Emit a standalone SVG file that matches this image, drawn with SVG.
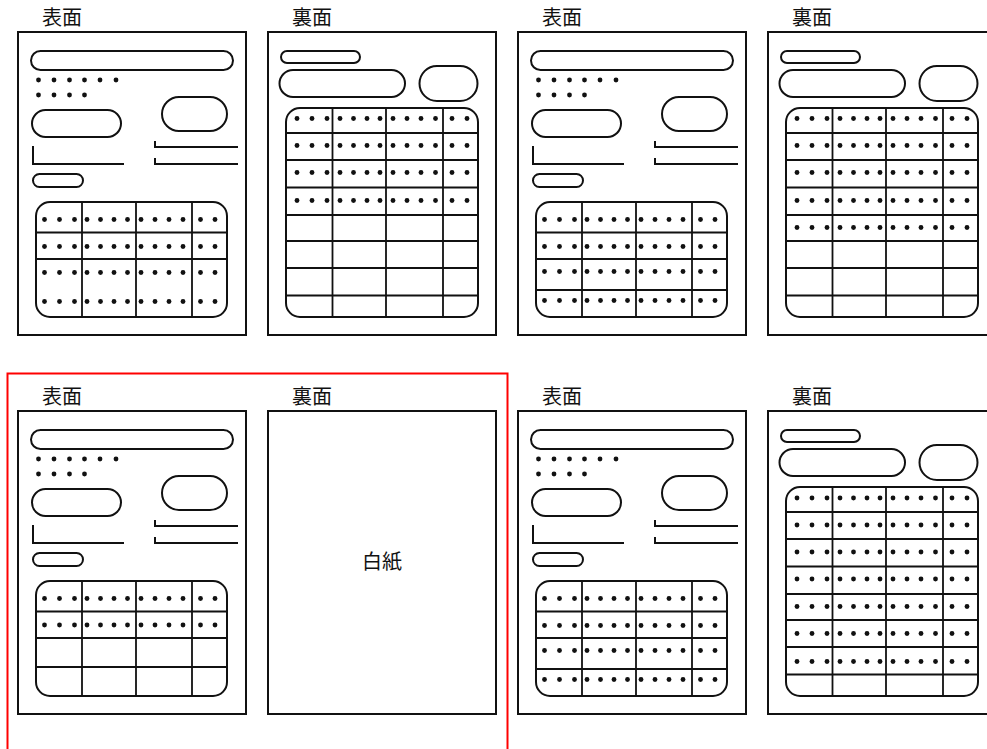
<svg xmlns="http://www.w3.org/2000/svg" xmlns:xlink="http://www.w3.org/1999/xlink" width="987" height="749" viewBox="0 0 987 749">
<style>
.ln{fill:none;stroke:#111;stroke-width:2}
.gr{fill:none;stroke:#111;stroke-width:1.8}
.fr{fill:#fff;stroke:#111;stroke-width:2}
.dt{fill:#111}
.dt circle{r:2.4px}
.lb{font-family:"Noto Sans CJK JP","Noto Sans CJK SC",sans-serif;font-size:20px;fill:#111}
.sel{fill:none;stroke:#f00;stroke-width:2}
</style>
<defs>
<g id="dotsF" class="dt">
<circle cx="44.5" cy="0" r="2.4"/><circle cx="59.5" cy="0" r="2.4"/><circle cx="74.5" cy="0" r="2.4"/>
<circle cx="87" cy="0" r="2.4"/><circle cx="100.5" cy="0" r="2.4"/><circle cx="114" cy="0" r="2.4"/><circle cx="127.5" cy="0" r="2.4"/>
<circle cx="141" cy="0" r="2.4"/><circle cx="155" cy="0" r="2.4"/><circle cx="169" cy="0" r="2.4"/><circle cx="183" cy="0" r="2.4"/>
<circle cx="200.5" cy="0" r="2.4"/><circle cx="215" cy="0" r="2.4"/>
</g>
<g id="dotsB" class="dt">
<circle cx="47" cy="0" r="2.4"/><circle cx="62" cy="0" r="2.4"/><circle cx="77" cy="0" r="2.4"/>
<circle cx="90" cy="0" r="2.4"/><circle cx="103.5" cy="0" r="2.4"/><circle cx="117" cy="0" r="2.4"/><circle cx="130" cy="0" r="2.4"/>
<circle cx="143" cy="0" r="2.4"/><circle cx="157" cy="0" r="2.4"/><circle cx="171" cy="0" r="2.4"/><circle cx="185.5" cy="0" r="2.4"/>
<circle cx="202" cy="0" r="2.4"/><circle cx="217" cy="0" r="2.4"/>
</g>
<g id="frontHead">
<rect class="fr" x="18" y="32" width="228" height="303"/>
<text class="lb" x="42" y="25">表面</text>
<rect class="ln" x="31" y="51" width="202" height="19" rx="9.5"/>
<g class="dt">
<circle cx="38.5" cy="80" r="2.4"/><circle cx="54" cy="80" r="2.4"/><circle cx="69.5" cy="80" r="2.4"/><circle cx="84.5" cy="80" r="2.4"/><circle cx="100" cy="80" r="2.4"/><circle cx="116" cy="80" r="2.4"/>
<circle cx="38.5" cy="95" r="2.4"/><circle cx="54" cy="95" r="2.4"/><circle cx="69.5" cy="95" r="2.4"/><circle cx="84.5" cy="95" r="2.4"/>
</g>
<rect class="ln" x="32" y="110" width="89" height="27" rx="13.5"/>
<rect class="ln" x="162" y="97" width="65" height="34" rx="17"/>
<path class="ln" d="M33 146V164H124"/>
<path class="ln" d="M155 141V147H238M155 158V164H238"/>
<rect class="ln" x="33" y="174" width="50" height="13" rx="6.5"/>
<rect class="ln" x="36" y="202" width="191" height="115" rx="14"/>
<path class="gr" d="M82 202V317M136 202V317M192 202V317"/>
</g>
<g id="backHead">
<rect class="fr" x="18" y="32" width="228" height="303"/>
<text class="lb" x="42" y="25">裏面</text>
<rect class="ln" x="31" y="51" width="79" height="12" rx="6"/>
<rect class="ln" x="29.5" y="70" width="125.5" height="27" rx="13.5"/>
<rect class="ln" x="169.5" y="66" width="58" height="35" rx="17.5"/>
<rect class="ln" x="36" y="108" width="192" height="209" rx="14"/>
<path class="gr" d="M82.5 108V317M136 108V317M193 108V317"/>
<path class="gr" d="M36 133H228M36 160H228M36 187.5H228M36 215H228M36 241H228M36 268H228M36 295.5H228"/>
</g>
</defs>

<g id="page1-front">
<use xlink:href="#frontHead"/>
<path class="gr" d="M36 232.5H227M36 259H227"/>
<use xlink:href="#dotsF" y="219.5"/><use xlink:href="#dotsF" y="246.5"/><use xlink:href="#dotsF" y="272.5"/><use xlink:href="#dotsF" y="301.5"/>
</g>

<g id="page2-back" transform="translate(250,0)">
<use xlink:href="#backHead"/>
<use xlink:href="#dotsB" y="118.5"/><use xlink:href="#dotsB" y="145.5"/><use xlink:href="#dotsB" y="172.5"/><use xlink:href="#dotsB" y="200.5"/>
</g>

<g id="page3-front" transform="translate(500,0)">
<use xlink:href="#frontHead"/>
<path class="gr" d="M36 232.5H227M36 259H227M36 290H227"/>
<use xlink:href="#dotsF" y="219.5"/><use xlink:href="#dotsF" y="246.5"/><use xlink:href="#dotsF" y="271.5"/><use xlink:href="#dotsF" y="300.5"/>
</g>

<g id="page4-back" transform="translate(750,0)">
<use xlink:href="#backHead"/>
<use xlink:href="#dotsB" y="118.5"/><use xlink:href="#dotsB" y="145.5"/><use xlink:href="#dotsB" y="172.5"/><use xlink:href="#dotsB" y="200.5"/><use xlink:href="#dotsB" y="227.5"/>
</g>

<g id="selection">
<rect class="sel" x="7.5" y="373.5" width="500" height="420"/>
</g>

<g id="page5-front" transform="translate(0,379)">
<use xlink:href="#frontHead"/>
<path class="gr" d="M36 232.5H227M36 259H227M36 288H227"/>
<use xlink:href="#dotsF" y="219.5"/><use xlink:href="#dotsF" y="246"/>
</g>

<g id="page6-blank" transform="translate(250,379)">
<rect class="fr" x="18" y="32" width="228" height="303"/>
<text class="lb" x="42" y="25">裏面</text>
<text class="lb" x="132" y="190" text-anchor="middle">白紙</text>
</g>

<g id="page7-front" transform="translate(500,379)">
<use xlink:href="#frontHead"/>
<path class="gr" d="M36 232.5H227M36 259H227M36 290H227"/>
<use xlink:href="#dotsF" y="219.5"/><use xlink:href="#dotsF" y="246.5"/><use xlink:href="#dotsF" y="271.5"/><use xlink:href="#dotsF" y="300.5"/>
</g>

<g id="page8-back" transform="translate(750,379)">
<use xlink:href="#backHead"/>
<use xlink:href="#dotsB" y="119"/><use xlink:href="#dotsB" y="146"/><use xlink:href="#dotsB" y="173"/><use xlink:href="#dotsB" y="200"/><use xlink:href="#dotsB" y="227.5"/><use xlink:href="#dotsB" y="254.5"/><use xlink:href="#dotsB" y="282.5"/>
</g>
</svg>
